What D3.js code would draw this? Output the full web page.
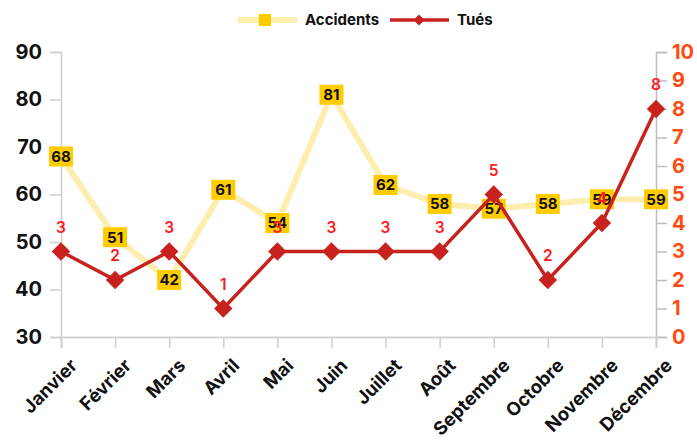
<!DOCTYPE html>
<meta charset="utf-8">
<title>Accidents et tués</title>
<style>
  body { margin: 0; background: #fff; }
  text { font-family: Inter, "Open Sans", sans-serif; }
</style>
<body>
<script src="https://cdn.jsdelivr.net/npm/d3@7"></script>
<script>
  // data
  var months = ["Janvier", "Février", "Mars", "Avril", "Mai", "Juin",
                "Juillet", "Août", "Septembre", "Octobre", "Novembre", "Décembre"];
  var accidents = [68, 51, 42, 61, 54, 81, 62, 58, 57, 58, 59, 59];
  var tues = [3, 2, 3, 1, 3, 3, 3, 3, 5, 2, 4, 8];
  var leftTicks = [30, 40, 50, 60, 70, 80, 90];
  var rightTicks = [0, 1, 2, 3, 4, 5, 6, 7, 8, 9, 10];

  var W = 697, H = 448;
  var margin = {top: 52, right: 41, bottom: 111, left: 61};
  var width = W - margin.left - margin.right,
      height = H - margin.top - margin.bottom;

  var svg = d3.select("body").append("svg")
      .attr("width", W)
      .attr("height", H);

  var g = svg.append("g")
      .attr("transform", "translate(" + margin.left + "," + margin.top + ")");

  var x = d3.scalePoint().domain(months).range([0, width]);
  var yL = d3.scaleLinear().domain([30, 90]).range([height, 0]);
  var yR = d3.scaleLinear().domain([0, 10]).range([height, 0]);

  // left axis
  var axL = g.append("g").call(d3.axisLeft(yL).tickValues(leftTicks).tickSize(11).tickPadding(8));
  axL.select(".domain").attr("stroke", "#cfcfcf").attr("stroke-width", 1.5);
  axL.selectAll(".tick line").attr("stroke", "#cfcfcf").attr("stroke-width", 1.5);
  axL.selectAll(".tick text").attr("font-size", 20).attr("font-weight", 700).attr("fill", "#111");

  // right axis
  var axR = g.append("g").attr("transform", "translate(" + width + ",0)")
      .call(d3.axisRight(yR).tickValues(rightTicks).tickSize(11).tickPadding(5));
  axR.select(".domain").attr("stroke", "#bdbdbd").attr("stroke-width", 1.5);
  axR.selectAll(".tick line").attr("stroke", "#bdbdbd").attr("stroke-width", 1.5);
  axR.selectAll(".tick text").attr("font-size", 20).attr("font-weight", 700).attr("fill", "#ff4b0f");

  // bottom axis
  var axB = g.append("g").attr("transform", "translate(0," + height + ")")
      .call(d3.axisBottom(x).tickSize(11).tickPadding(0));
  axB.select(".domain").attr("stroke", "#d3d3d3").attr("stroke-width", 2);
  axB.selectAll(".tick line").attr("stroke", "#cfcfcf").attr("stroke-width", 1.5);
  axB.selectAll(".tick text")
      .attr("font-size", 18.5).attr("font-weight", 700).attr("fill", "#111")
      .attr("text-anchor", "end")
      .attr("dy", 0)
      .attr("transform", "translate(9,22) rotate(-45)");

  // accidents line
  var lineA = d3.line().x(function(d, i) { return x(months[i]); }).y(function(d) { return yL(d); });
  g.append("path").datum(accidents)
      .attr("d", lineA)
      .attr("fill", "none")
      .attr("stroke", "#fdeeb0")
      .attr("stroke-width", 6)
      .attr("stroke-linejoin", "round");

  var aLab = g.append("g").selectAll("g")
      .data(accidents).enter().append("g")
      .attr("transform", function(d, i) { return "translate(" + x(months[i]) + "," + yL(d) + ")"; });
  aLab.append("rect")
      .attr("x", -12).attr("y", -10).attr("width", 24).attr("height", 20)
      .attr("fill", "#ffcc00");
  aLab.append("text")
      .attr("text-anchor", "middle").attr("dy", "0.36em")
      .attr("font-size", 15).attr("font-weight", 700).attr("fill", "#111")
      .text(function(d) { return d; });

  // tués line
  var lineT = d3.line().x(function(d, i) { return x(months[i]); }).y(function(d) { return yR(d); });
  g.append("path").datum(tues)
      .attr("d", lineT)
      .attr("fill", "none")
      .attr("stroke", "#c8221f")
      .attr("stroke-width", 3.5);

  var diamond = d3.symbol().type(d3.symbolSquare).size(170);
  g.append("g").selectAll("path")
      .data(tues).enter().append("path")
      .attr("d", diamond)
      .attr("fill", "#c8221f")
      .attr("transform", function(d, i) { return "translate(" + x(months[i]) + "," + yR(d) + ") rotate(45)"; });

  g.append("g").selectAll("text")
      .data(tues).enter().append("text")
      .attr("x", function(d, i) { return x(months[i]); })
      .attr("y", function(d) { return yR(d) - 19; })
      .attr("text-anchor", "middle")
      .attr("font-size", 15.5).attr("font-weight", 600).attr("fill", "#ff1a1a")
      .text(function(d) { return d; });

  // legend
  var leg = svg.append("g").attr("transform", "translate(0,20)");
  leg.append("line").attr("x1", 238).attr("x2", 297).attr("stroke", "#fdeeb0").attr("stroke-width", 6);
  leg.append("rect").attr("x", 259).attr("y", -6).attr("width", 12).attr("height", 12).attr("fill", "#ffcc00");
  leg.append("text").attr("x", 305).attr("dy", "0.35em").attr("font-size", 15).attr("font-weight", 700)
      .attr("fill", "#111").text("Accidents");
  leg.append("line").attr("x1", 390).attr("x2", 449).attr("stroke", "#c8221f").attr("stroke-width", 3.5);
  leg.append("path").attr("d", d3.symbol().type(d3.symbolSquare).size(60))
      .attr("fill", "#c8221f").attr("transform", "translate(419,0) rotate(45)");
  leg.append("text").attr("x", 457).attr("dy", "0.35em").attr("font-size", 15).attr("font-weight", 700)
      .attr("fill", "#111").text("Tués");
</script>
</body>
